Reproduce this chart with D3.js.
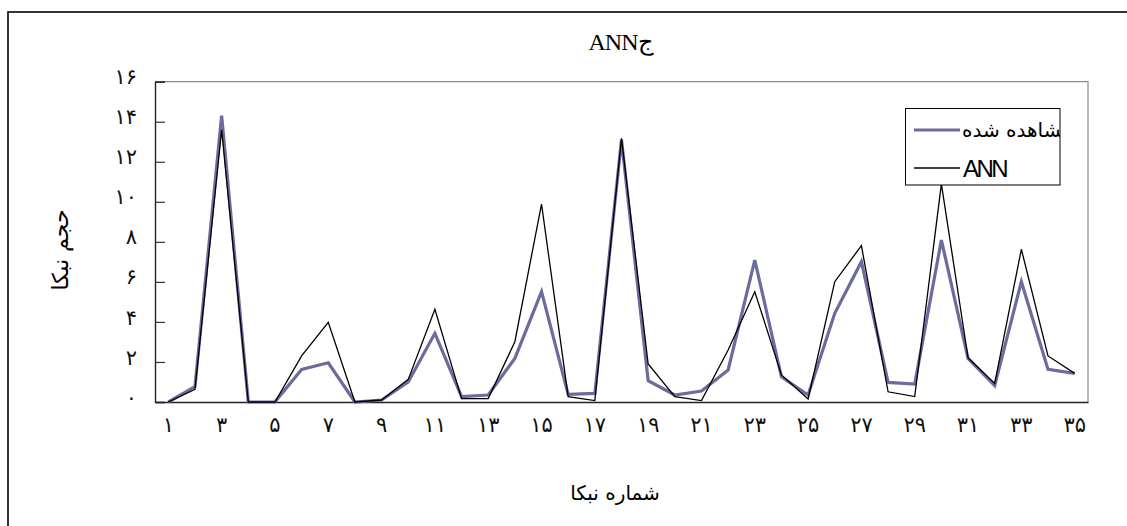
<!DOCTYPE html>
<html><head><meta charset="utf-8">
<script src="https://cdn.jsdelivr.net/npm/d3@7"></script>
<style>
html,body{margin:0;padding:0;background:#fff;}
svg{display:block;}
</style></head>
<body>
<svg id="chart" width="1127" height="526"></svg>
<script>
const categories = d3.range(1, 36);
const observed = [0, 0.77, 14.3, 0, 0, 1.63, 1.96, 0, 0.1, 1.0, 3.43, 0.27, 0.35, 2.18, 5.51, 0.38, 0.43, 13.1, 1.06, 0.35, 0.55, 1.6, 7.09, 1.26, 0.35, 4.43, 7.01, 0.98, 0.9, 8.09, 2.18, 0.82, 6.01, 1.63, 1.43];
const ann = [0, 0.63, 13.6, 0, 0, 2.3, 3.98, 0, 0.1, 1.13, 4.63, 0.17, 0.17, 3.01, 9.89, 0.27, 0.07, 13.17, 1.9, 0.27, 0.07, 2.6, 5.51, 1.35, 0.15, 6.01, 7.81, 0.51, 0.27, 10.9, 2.21, 0.93, 7.63, 2.3, 1.43];
const yTicks = [0, 2, 4, 6, 8, 10, 12, 14, 16];
const seriesNames = ["مشاهده شده", "ANN"];
const titleText = "ANNج";
const xTitle = "شماره نبکا";
const yTitle = "حجم نبکا";

const faDigits = n => String(n).replace(/\d/g, d => "۰۱۲۳۴۵۶۷۸۹"[d]);

const svg = d3.select("#chart");
const L = 155, R = 1088, T = 81.7, B = 402;

// outer frame
svg.append("rect").attr("x", 8).attr("y", 12).attr("width", 1140).attr("height", 540)
  .attr("fill", "none").attr("stroke", "#000").attr("stroke-width", 1.6);

const x = d3.scaleBand().domain(categories).range([L, R]).padding(0);
const y = d3.scaleLinear().domain([0, 16]).range([B, T]);
const cx = d => x(d) + x.bandwidth() / 2;

// plot area border (gray top/right)
svg.append("path").attr("d", `M${L},${T}H${R}V${B}`).attr("fill", "none").attr("stroke", "#8c8c8c").attr("stroke-width", 1.2);

// y axis
const yAxis = d3.axisLeft(y).tickValues(yTicks).tickSize(-10).tickFormat(faDigits);
const gy = svg.append("g").attr("transform", `translate(${L},0)`).call(yAxis);
gy.select(".domain").attr("stroke", "#222").attr("stroke-width", 1.4);
gy.selectAll(".tick line").attr("stroke", "#333").attr("stroke-width", 1.2);
gy.selectAll(".tick text").attr("x", -18).attr("dy", "0.1em")
  .attr("font-family", "DejaVu Sans").attr("font-size", 21).attr("fill", "#111");

// x axis
const xAxis = d3.axisBottom(x).tickValues(categories.filter(c => c % 2 === 1)).tickSize(0).tickFormat(faDigits);
const gx = svg.append("g").attr("transform", `translate(0,${B})`).call(xAxis);
gx.select(".domain").attr("stroke", "#222").attr("stroke-width", 1.6);
gx.selectAll(".tick text").attr("y", 14).attr("dy", "0.75em")
  .attr("font-family", "DejaVu Sans").attr("font-size", 21).attr("fill", "#111");

// lines
const line = vals => d3.line().x((d, i) => cx(categories[i])).y(d => y(d))(vals);
svg.append("path").attr("d", line(observed)).attr("fill", "none")
  .attr("stroke", "#6b6b9e").attr("stroke-width", 3.2).attr("stroke-linejoin", "miter");
svg.append("path").attr("d", line(ann)).attr("fill", "none")
  .attr("stroke", "#000").attr("stroke-width", 1.3);

// legend
const lg = svg.append("g");
const lx = 905.5, ly = 108.5, lw = 154.5, lh = 76.5;
svg.append("clipPath").attr("id", "lgclip").append("rect").attr("x", lx).attr("y", ly).attr("width", lw).attr("height", lh);
lg.append("rect").attr("x", lx).attr("y", ly).attr("width", lw).attr("height", lh)
  .attr("fill", "#fff").attr("stroke", "#000").attr("stroke-width", 1);
lg.append("line").attr("x1", 914).attr("x2", 960).attr("y1", 130).attr("y2", 130)
  .attr("stroke", "#6b6b9e").attr("stroke-width", 3.2);
lg.append("text").attr("x", 962).attr("y", 137).attr("text-anchor", "start").attr("direction", "ltr")
  .attr("clip-path", "url(#lgclip)")
  .attr("font-family", "DejaVu Sans").attr("font-size", 20).text(seriesNames[0]);
lg.append("line").attr("x1", 914).attr("x2", 960).attr("y1", 168).attr("y2", 168)
  .attr("stroke", "#000").attr("stroke-width", 1.3);
lg.append("text").attr("x", 963).attr("y", 177).attr("font-family", "Liberation Sans")
  .attr("font-size", 24).attr("letter-spacing", -2.5).text(seriesNames[1]);

// title
svg.append("text").attr("x", 621).attr("y", 50).attr("text-anchor", "middle")
  .attr("font-family", "Liberation Serif").attr("font-size", 24).attr("letter-spacing", -1).text(titleText);

// axis titles
svg.append("text").attr("x", 615).attr("y", 500).attr("text-anchor", "middle")
  .attr("font-family", "DejaVu Sans").attr("font-size", 20).text(xTitle);
svg.append("text").attr("transform", "translate(68,250) rotate(-90)").attr("text-anchor", "middle")
  .attr("font-family", "DejaVu Sans").attr("font-size", 22).text(yTitle);
</script>
</body></html>
